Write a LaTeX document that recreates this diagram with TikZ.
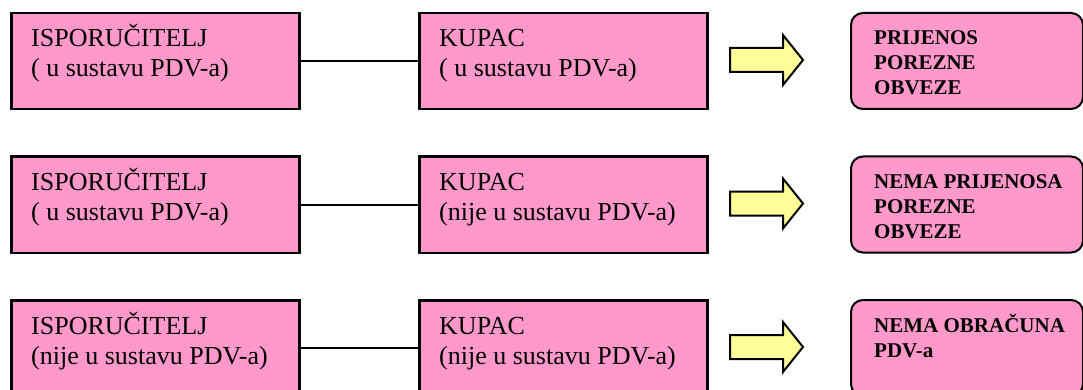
\documentclass[tikz,border=0pt]{standalone}
\usepackage{fontspec}
\setmainfont{Liberation Serif}
\definecolor{boxpink}{HTML}{FF99CC}
\definecolor{arrowyellow}{HTML}{FFFF99}
\begin{document}
\begin{tikzpicture}[x=1pt,y=-1pt,
  sbox/.style={draw=black, line width=2.5pt, fill=boxpink, rectangle, inner sep=0pt,
    minimum width=288pt, minimum height=96pt, anchor=north west},
  rbox/.style={draw=black, line width=2pt, fill=boxpink, rectangle, rounded corners=12pt,
    inner sep=0pt, minimum width=232pt, minimum height=96pt, anchor=north west},
  reg/.style={anchor=base west, inner sep=0pt, font=\fontsize{26}{30}\selectfont},
  bld/.style={anchor=base west, inner sep=0pt, font=\fontsize{21}{25}\selectfont\bfseries},
  conn/.style={draw=black, line width=2pt},
  blockarrow/.style={draw=black, line width=2pt, fill=arrowyellow, line join=miter}]
\useasboundingbox (0,0) rectangle (1083,390);
\clip (0,0) rectangle (1083,390);
% Row 1
\node[sbox] (s1) at (10,12) {};
\node[sbox] (k1) at (418,12) {};
\node[rbox] (r1) at (850,12) {};
\draw[conn] (s1.east) -- (k1.west);
\draw[blockarrow] (730,48) -- (783,48) -- (783,35) -- (803,60) -- (783,85) -- (783,72) -- (730,72) -- cycle;
\node[reg] (s1a) at (31,47) {ISPORUČITELJ};
\node[reg] (s1b) at (31,77) {( u sustavu PDV-a)};
\node[reg] (k1a) at (439,47) {KUPAC};
\node[reg] (k1b) at (439,77) {( u sustavu PDV-a)};
\node[bld] (r1a) at (874,45) {PRIJENOS};
\node[bld] (r1b) at (874,70) {POREZNE};
\node[bld] (r1c) at (874,95) {OBVEZE};
% Row 2
\node[sbox] (s2) at (10,155.5) {};
\node[sbox] (k2) at (418,155.5) {};
\node[rbox] (r2) at (850,155.5) {};
\draw[conn] (s2.east) -- (k2.west);
\draw[blockarrow] (730,191.5) -- (783,191.5) -- (783,178.5) -- (803,203.5) -- (783,228.5) -- (783,215.5) -- (730,215.5) -- cycle;
\node[reg] (s2a) at (31,190.5) {ISPORUČITELJ};
\node[reg] (s2b) at (31,220.5) {( u sustavu PDV-a)};
\node[reg] (k2a) at (439,190.5) {KUPAC};
\node[reg] (k2b) at (439,220.5) {(nije u sustavu PDV-a)};
\node[bld] (r2a) at (874,188.5) {NEMA PRIJENOSA};
\node[bld] (r2b) at (874,213.5) {POREZNE};
\node[bld] (r2c) at (874,238.5) {OBVEZE};
% Row 3
\node[sbox] (s3) at (10,299) {};
\node[sbox] (k3) at (418,299) {};
\node[rbox] (r3) at (850,299) {};
\draw[conn] (s3.east) -- (k3.west);
\draw[blockarrow] (730,335) -- (783,335) -- (783,322) -- (803,347) -- (783,372) -- (783,359) -- (730,359) -- cycle;
\node[reg] (s3a) at (31,334) {ISPORUČITELJ};
\node[reg] (s3b) at (31,364) {(nije u sustavu PDV-a)};
\node[reg] (k3a) at (439,334) {KUPAC};
\node[reg] (k3b) at (439,364) {(nije u sustavu PDV-a)};
\node[bld] (r3a) at (874,332) {NEMA OBRAČUNA};
\node[bld] (r3b) at (874,357) {PDV-a};
\end{tikzpicture}
\end{document}
